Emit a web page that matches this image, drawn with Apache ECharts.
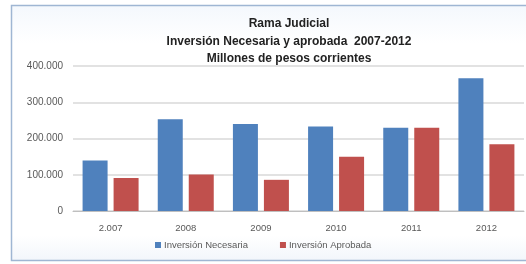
<!DOCTYPE html>
<html><head><meta charset="utf-8">
<script src="https://cdn.jsdelivr.net/npm/echarts@6/dist/echarts.min.js"></script>
<style>html,body{margin:0;padding:0;background:#fff}#c{width:526px;height:264px}</style>
</head><body><div id="c"></div>
<script>
var categories = ['2.007', '2008', '2009', '2010', '2011', '2012'];
var necesaria = [139000, 253000, 240000, 233000, 230000, 366000];
var aprobada = [91000, 101000, 86000, 150000, 230000, 184000];
var titleLines = ['Rama Judicial', 'Inversión Necesaria y aprobada  2007-2012', 'Millones de pesos corrientes'];
var seriesNames = ['Inversión Necesaria', 'Inversión Aprobada'];

var chart = echarts.init(document.getElementById('c'), null, {renderer: 'canvas'});
var font = 'Liberation Sans, Arial, sans-serif';
chart.setOption({
  animation: false,
  backgroundColor: '#fff',
  graphic: [{
    type: 'rect', z: -10, silent: true,
    shape: {x: 11.5, y: 5.5, width: 530, height: 255},
    style: {
      fill: new echarts.graphic.LinearGradient(0, 0, 0, 1, [
        {offset: 0, color: '#f4f8fd'}, {offset: 0.15, color: '#ffffff'},
        {offset: 0.9, color: '#ffffff'}, {offset: 1, color: '#f2f6fb'}]),
      stroke: '#9fb6d3', lineWidth: 1.5
    }
  }],
  title: {
    text: titleLines.join('\n'),
    left: 284, textAlign: 'center', top: 10,
    textStyle: {fontFamily: font, fontSize: 12, fontWeight: 'bold', color: '#222', lineHeight: 17.5}
  },
  legend: {
    data: seriesNames, left: 150, top: 235, itemWidth: 6, itemHeight: 6, itemGap: 32,
    icon: 'rect',
    textStyle: {fontFamily: font, fontSize: 9.5, color: '#595959', padding: [0, 0, 0, -2]}
  },
  grid: {left: 73, right: 2, top: 66, bottom: 53},
  xAxis: {
    type: 'category', data: categories,
    axisLine: {lineStyle: {color: '#bfbfbf'}},
    axisTick: {show: false},
    axisLabel: {fontFamily: font, fontSize: 9.5, color: '#595959', margin: 12}
  },
  yAxis: {
    type: 'value', min: 0, max: 400000, interval: 100000,
    axisLine: {show: false}, axisTick: {show: false},
    splitLine: {lineStyle: {color: '#d9d9d9', width: 1.5}},
    axisLabel: {fontFamily: font, fontSize: 10, color: '#595959', margin: 10,
      formatter: function (v) { return v === 0 ? '0' : (v / 1000).toFixed(0) + '.000'; }}
  },
  series: [
    {name: seriesNames[0], type: 'bar', data: necesaria, barWidth: 25, barGap: '24%',
     itemStyle: {color: '#4f81bd'}},
    {name: seriesNames[1], type: 'bar', data: aprobada, barWidth: 25,
     itemStyle: {color: '#c0504d'}}
  ]
});
</script></body></html>
